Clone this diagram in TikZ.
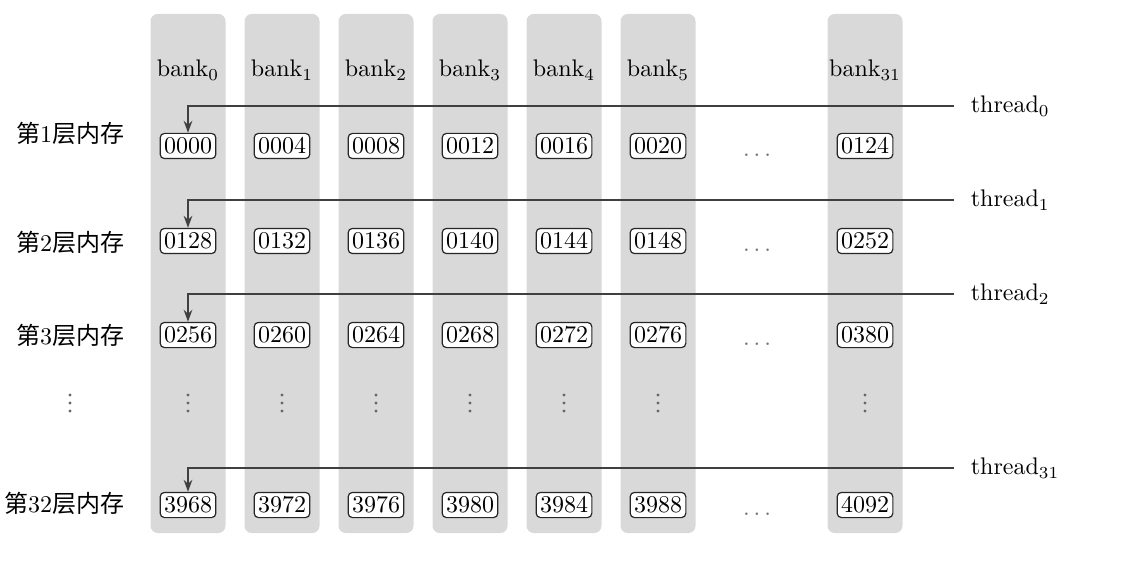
\documentclass[tikz,border=0pt]{standalone}
\usepackage{fontspec}
\newfontfamily\cjk{Noto Sans CJK SC}
\usetikzlibrary{arrows.meta,calc}
\begin{document}
\begin{tikzpicture}[x=0.4167pt,y=-0.4167pt,
  bankcol/.style={fill=black!15,rounded corners=3pt},
  cell/.style={draw=black!85,fill=white,rounded corners=1.8pt,inner xsep=1.6pt,inner ysep=1pt,minimum height=10.5pt,line width=0.5pt,font=\fontsize{10}{12}\selectfont},
  lbl/.style={inner sep=1pt,font=\fontsize{10}{12}\selectfont},
  dotlbl/.style={inner sep=0pt,text=black!55,font=\fontsize{10}{12}\selectfont},
  vdot/.style={fill=black!60},
  thr/.style={draw=black!75,line width=0.6pt,-{Stealth[length=5pt,width=3.6pt]}}]
\useasboundingbox (0,0) rectangle (1128,562);
% columns
\foreach \x [count=\i from 0] in {188,282,376,470,564,658,865}{
  \fill[bankcol] (\x-37.5,14) rectangle (\x+37.5,533);
  \coordinate (col\i) at (\x,0);
}
\coordinate (dx) at (757,0);
% bank labels
\foreach \i/\s in {0/0,1/1,2/2,3/3,4/4,5/5,6/31}{
  \node[lbl] (bank\i) at ($(col\i)+(0,70)$) {bank$_{\s}$};
}
% cells
\foreach \r/\y/\list in {1/146/{0000,0004,0008,0012,0016,0020,0124},
                         2/241/{0128,0132,0136,0140,0144,0148,0252},
                         3/335/{0256,0260,0264,0268,0272,0276,0380},
                         32/505/{3968,3972,3976,3980,3984,3988,4092}}{
  \foreach \v [count=\i from 0] in \list {
    \node[cell] (r\r c\i) at ($(col\i)+(0,\y)$) {\v};
  }
  \node[dotlbl,anchor=base] (hd\r) at ([yshift=-1pt]dx |- r\r c0.base) {$\ldots$};
}
% row labels
\node[lbl,anchor=east] (L1) at (127,133) {{\cjk 第}1{\cjk 层内存}};
\node[lbl,anchor=east] (L2) at (127,242) {{\cjk 第}2{\cjk 层内存}};
\node[lbl,anchor=east] (L3) at (127,335) {{\cjk 第}3{\cjk 层内存}};
\node[lbl,anchor=east] (L32) at (127,503) {{\cjk 第}32{\cjk 层内存}};
% vertical dots
\foreach \x in {70,188,282,376,470,564,658,865}{
  \foreach \dy in {395,403,411}{
    \fill[vdot] (\x,\dy) circle (1.6);
  }
}
% threads
\foreach \t/\y/\r in {0/106/1,1/200/2,2/294/3,31/468/32}{
  \node[lbl,anchor=west] (th\t) at (968,\y) {thread$_{\t}$};
  \draw[thr] ($(th\t.west)+(-14,0)$) -| (r\r c0.north);
}
\end{tikzpicture}
\end{document}
